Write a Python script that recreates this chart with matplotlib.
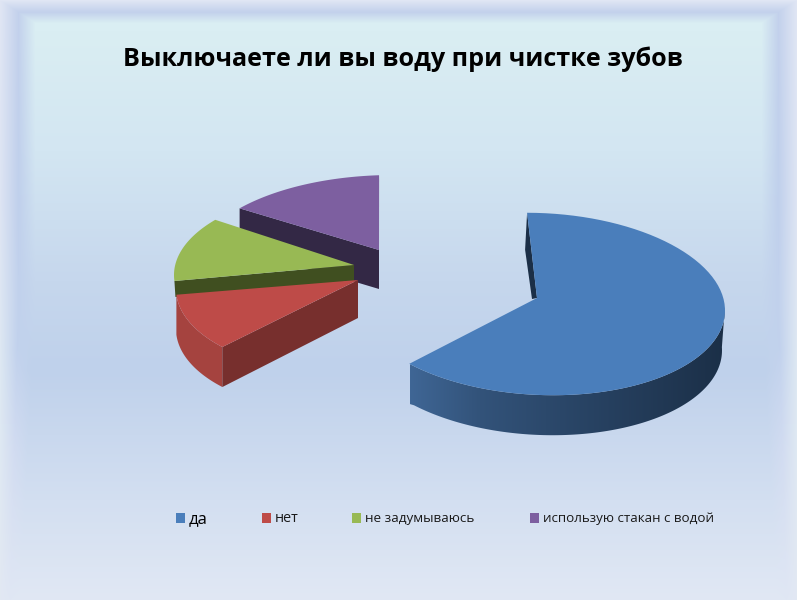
import numpy as np
import matplotlib
matplotlib.use('Agg')
from matplotlib import pyplot as plt
from matplotlib.patches import Polygon, Rectangle
from matplotlib.colors import to_rgb

title = 'Выключаете ли вы воду при чистке зубов'
labels = ['да', 'нет', 'не задумываюсь', 'использую стакан с водой']
shares = [63.6, 11.4, 12.2, 12.8]
colors = ['#4A7EBB', '#BE4B48', '#98B954', '#7D5FA0']

# layout of each exploded slice on the page, in pixels
apex = [(537, 298), (358, 280), (354, 265), (379, 250)]
centers = [(540, 304), (334, 289), (351, 275), (393, 268)]
radii = [(185, 91), (158, 82), (177, 86), (200, 93)]
tilt = [0.035, 0, 0, 0]
start_angle = -4
depth = 39

W, H = 797, 600


def mix(c1, c2, t):
    return np.array(to_rgb(c1)) * (1 - t) + np.array(to_rgb(c2)) * t


def arc(i, a, b, dy=0, shrink=0, n=80):
    t = np.radians(np.linspace(a, b, n))
    cx, cy = centers[i]
    rx, ry = radii[i]
    x = (rx - shrink) * np.sin(t)
    return np.column_stack([cx + x, cy + dy - ry * np.cos(t) + tilt[i] * x])


def background():
    yy, xx = np.mgrid[0:H, 0:W]
    stops_y = [0, 30, 150, 280, 370, 500, 600]
    stops_c = ['#DAEEF3', '#DAEEF3', '#D3E6F2', '#C6D7ED', '#BFD1EB', '#D3DFF1', '#E1E8F4']
    inner_c = np.array([to_rgb(c) for c in stops_c])
    ring_y = [0, 200, 350, 450, 600]
    ring_c = np.array([to_rgb(c) for c in ['#C3D1EC', '#C0D0EC', '#C2D2ED', '#D2DCF1', '#E0E7F4']])
    outer_y = [0, 200, 380, 600]
    outer_c = np.array([to_rgb(c) for c in ['#E0E6F4', '#DDE4F3', '#DDE8F2', '#E2E8F3']])
    img = np.zeros((H, W, 3))
    d = np.minimum.reduce([xx * 1.0, (W - 1 - xx) * 1.0, yy * 1.55])
    # the frame narrows towards the bottom of the slide
    narrow = np.interp(yy, [0, 300, 600], [1.0, 1.0, 0.55])
    for k in range(3):
        inner = np.interp(yy, stops_y, inner_c[:, k])
        ring = np.interp(yy, ring_y, ring_c[:, k])
        outer = np.interp(yy, outer_y, outer_c[:, k])
        a = np.clip(d / (18 * narrow), 0, 1)
        b = np.clip((d - 18 * narrow) / (17 * narrow), 0, 1)
        img[:, :, k] = (outer * (1 - a) + ring * a) * (1 - b) + inner * b
    return img


fig = plt.figure(dpi=100, figsize=(W / 100, H / 100))
ax = fig.add_axes([0, 0, 1, 1])
ax.imshow(background(), extent=(0, W, H, 0), aspect='auto', interpolation='bilinear', zorder=0)
ax.set_xlim(0, W)
ax.set_ylim(H, 0)
ax.axis('off')

edges = start_angle + np.cumsum([0] + [s * 3.6 for s in shares])

# purple, back slice
a, b = edges[3], edges[4]
p = arc(3, a, b)
ax.add_patch(Polygon([p[0], (p[0][0], p[0][1] + depth), (apex[3][0], apex[3][1] + depth), apex[3]],
                     fc='#332845', ec='none', zorder=2))
ax.add_patch(Polygon([apex[3], (apex[3][0], apex[3][1] + depth - 1),
                      (apex[3][0] - 1, apex[3][1] + depth - 1), p[-1]],
                     fc='#332845', ec='none', zorder=2))
ax.add_patch(Polygon(np.vstack([apex[3], p]), fc=colors[3], ec='none', zorder=3))

# green, only a strip of the wall shows above the red slice
a, b = edges[2], edges[3]
p = arc(2, a, b)
ax.add_patch(Polygon([p[0], (p[0][0] + 1, p[0][1] + 16), (apex[2][0], apex[2][1] + 16), apex[2]],
                     fc='#404F20', ec='none', zorder=4))
ax.add_patch(Polygon(np.vstack([apex[2], p]), fc=colors[2], ec='none', zorder=5))

# red
a, b = edges[1], edges[2]
p = arc(1, a, b)
low = p + [0, depth + 1]
ax.add_patch(Polygon(np.vstack([p, low[::-1]]), fc='#A5433F', ec='none', zorder=6))
ax.add_patch(Polygon([p[0], low[0], (apex[1][0], apex[1][1] + depth - 1), apex[1]],
                     fc='#772F2D', ec='none', zorder=7))
ax.add_patch(Polygon(np.vstack([apex[1], p]), fc=colors[1], ec='none', zorder=8))

# blue, front slice with shaded wall
a, b = edges[0], edges[1]
p = arc(0, a, b)
top_wall = arc(0, 88, b, n=120)
low_wall = arc(0, 88, b, dy=depth + 1, shrink=3, n=120)
low_wall[-1, 0] = top_wall[-1, 0]
wall = Polygon(np.vstack([top_wall, low_wall[::-1]]), fc='none', ec='none', zorder=9)
ax.add_patch(wall)
shade = np.array([mix('#3F6695', '#1B2F47', t) for t in [0, .35, .62, .8, 1]])
grad = np.zeros((1, 315, 3))
for k in range(3):
    grad[0, :, k] = np.interp(np.arange(315), [0, 70, 170, 240, 315], shade[:, k])
im = ax.imshow(grad, extent=(410, 725, 440, 300), aspect='auto', zorder=9)
im.set_clip_path(wall)
ax.set_xlim(0, W)
ax.set_ylim(H, 0)
ax.add_patch(Polygon([p[0], p[0] + [-2, 37], np.array(apex[0]) + [-5, 1], apex[0]],
                     fc='#1B2F47', ec='none', zorder=10))
ax.add_patch(Polygon(np.vstack([apex[0], p]), fc=colors[0], ec='none', zorder=11))

ax.text(403, 59, title, ha='center', va='center', fontsize=18.05, fontweight='bold',
        family='Open Sans', color='#000000')

# legend row
legend_x = [176, 262, 352, 530]
legend_size = [12, 10.4, 9.7, 9.6]
for lab, col, x, size in zip(labels, colors, legend_x, legend_size):
    ax.add_patch(Rectangle((x, 513), 9.5, 9.5, fc=col, ec='none', zorder=12))
    ax.text(x + 13, 523 if lab == 'да' else 522, lab, ha='left', va='baseline',
            fontsize=size, family='Open Sans',
            color='#000000' if lab == 'да' else '#1A1A1A')

fig.savefig('out.png', dpi=100)
